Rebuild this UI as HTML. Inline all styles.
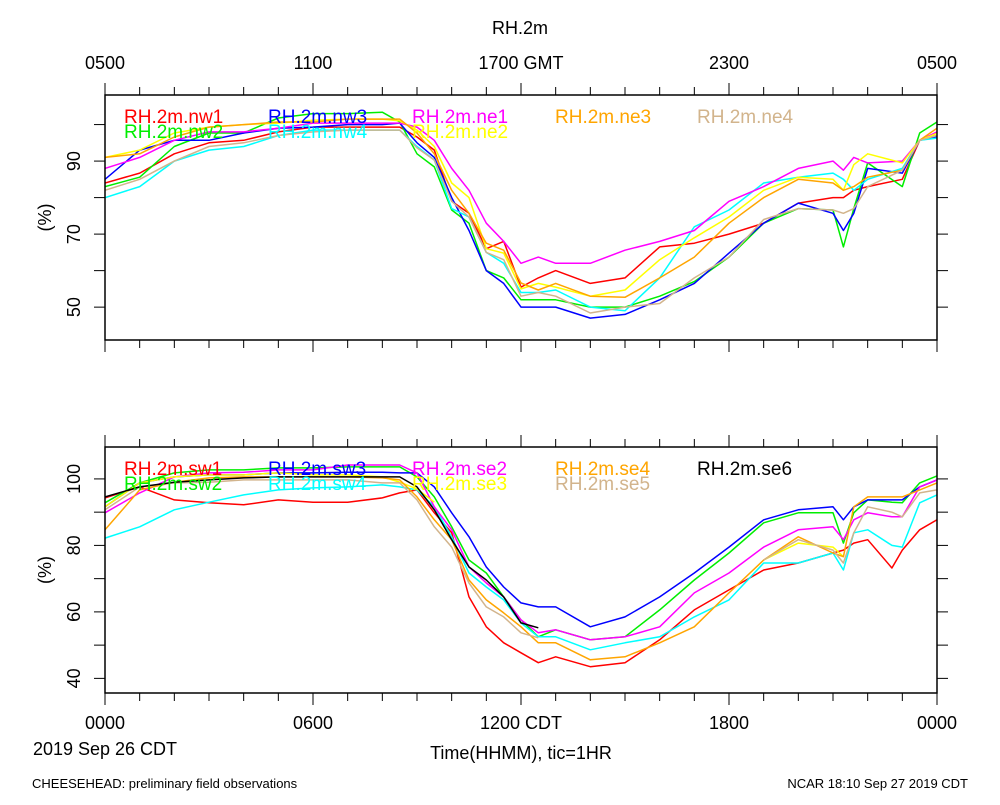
<!DOCTYPE html>
<html><head><meta charset="utf-8">
<style>
html,body{margin:0;padding:0;background:#fff;}
svg text{font-family:"Liberation Sans",Arial,sans-serif;}
</style></head>
<body>
<svg id="chart" width="1000" height="800" viewBox="0 0 1000 800" xmlns="http://www.w3.org/2000/svg">
<rect x="0" y="0" width="1000" height="800" fill="#fff"/>
<text x="520" y="34" font-size="18" text-anchor="middle">RH.2m</text>
<g id="top-panel"></g>
<g id="bottom-panel"></g>
<text x="105" y="755" font-size="18" text-anchor="middle">2019 Sep 26 CDT</text>
<text x="521" y="759" font-size="18" text-anchor="middle">Time(HHMM), tic=1HR</text>
<text x="32" y="788" font-size="13">CHEESEHEAD: preliminary field observations</text>
<text x="968" y="788" font-size="13" text-anchor="end">NCAR 18:10 Sep 27 2019 CDT</text>
</svg>
<script>
const topHours=[0,1,2,3,4,5,6,7,8,8.5,9,9.5,10,10.5,11,11.5,12,12.5,13,14,15,16,17,18,19,20,21,21.3,21.6,22,23,23.5,24];
const nw1=[84,86.7,92,95,95.7,98,99.3,99.3,99.3,99.3,96.6,93,79,75.7,66,68,55.5,58,60,56.5,58,66.5,67.5,70,73,78.5,80,80,82,83,85,95.7,97];
const nw2=[83,85.6,94,97.7,97.7,101.8,103,103,103.4,100.7,92,88.4,76.6,73,60,58,52,52,52,50,50,53,57,63.7,73,77,76.6,66.5,77,89.5,83,97.7,100.7];
const nw3=[85,93,95.7,95.7,97.7,99,99.3,100,100,100.4,95,91,80,71,60,56.5,50,50,50,47,48,52,56.5,64.8,73,78.5,75.7,71,75.7,88,86.7,95.7,96.6];
const nw4=[80,83,90,93,94,97,98.5,98.5,98.5,98.5,94,90.3,77,74.7,65,62,54,54,54.7,50,49,58,72,76.6,84,85.6,86.7,85,82,85,88,95.7,96.3];
const ne1=[88,91,95.7,98,98,99,100.4,100.4,100.4,100.4,99.3,95.7,88,82,73,68,62,63.7,62,62,65.6,68,71,79,83,88,90,87.5,91,89.5,90,95.7,98];
const ne2=[91,93,97.7,99.3,100,100.4,101.2,101.5,101.5,101,98.5,94,84,80,66,64.8,55,56.5,55.5,53,54.7,63,69,74.7,82,85.6,85,82,89,92,89.5,95.7,97.6];
const ne3=[91,92,96.6,99.3,100,100.7,100.7,101.5,101.5,101.5,97.7,92,82,75.7,67.5,65.6,56.6,54.7,56.5,53,52.7,58,63.7,73,80,85,84,82,83,85.6,87.5,95.7,99];
const ne4=[82,85,90,94,95,97,98,98.5,98.5,98.5,93.6,90.3,79,74.7,65,63,53,54,53,48.4,50,51,58,63.7,74,77,76.6,75.7,77,83,87.5,95.7,97];

const botHours=[0,1,2,3,4,5,6,7,8,8.5,9,9.5,10,10.5,11,11.5,12,12.5,13,14,15,16,17,18,19,20,21,21.3,21.6,22,22.7,23,23.5,24];
const sw1=[94.3,97.6,93.7,92.8,92.2,93.7,93,93,94.3,95.8,96.7,89.8,83.8,64.5,55.5,50.7,47.7,44.7,46.5,43.5,44.7,51.6,60.6,66.6,72.6,74.7,77.7,78.6,80.7,81.7,73.2,78.6,84.7,87.7];
const sw2=[92.8,98.8,101.8,102.7,102.7,103.3,103.3,103.6,103.6,103.6,100.6,94.6,85.6,75.6,71.7,64.5,57.6,52.5,54.6,51.6,52.5,60.6,69.6,77.7,86.8,89.8,89.8,80.7,89.8,93.7,93,92.8,98.8,100.9];
const sw3=[91.6,98.8,100.6,101.2,101.2,101.8,101.8,102,102,101.8,101.8,97.6,89.8,82.6,73.5,67.5,62.7,61.5,61.5,55.5,58.5,64.5,71.7,79.5,87.7,90.7,91.6,87.7,91.6,93.7,93.7,93.7,97.6,99.7];
const sw4=[82.2,85.6,90.7,93,95.2,96.7,97.3,97.6,98.2,97.6,96.7,91.6,82.6,71.7,67.5,63.6,56.7,52.5,52.5,48.6,50.7,52.5,58.5,63.6,74.7,74.7,77.7,72.6,83.8,84.7,80,79.5,92.8,95.2];
const se2=[89.8,95.8,100.6,101.8,102,102.7,102.7,104.2,104.2,104.2,101.8,91.6,84.7,73.5,68.7,64.5,57.6,53.7,54.6,51.6,52.5,55.5,65.7,71.7,79.5,84.7,85.6,81.7,87.7,89.8,88.6,88.6,97.6,99.7];
const se3=[91.6,98.8,100.6,101.2,101.2,101.8,101.2,101.2,100.6,99,97,93,null,null,null,null,null,null,null,null,null,null,null,null,75.6,80.7,79.5,76.6,null,null,null,null,null,null];
const se4=[84.7,96.7,99,100.3,100.6,100.6,100.6,100.6,100.3,99.7,94.6,87.7,81.7,69.6,63.6,59.7,55.5,50.7,50.7,45.6,46.5,50.7,55.5,65.7,75.6,82.6,77.7,76.6,91.6,94.6,94.6,94.6,96.7,98.8];
const se5=[90.7,97.6,98.8,99,99.7,99.7,99.7,99.7,98.8,98.8,93.7,85.6,79.5,68.7,61.5,58.5,53.7,52.2,null,null,null,null,null,null,75.6,81.7,78.6,74.7,83.8,91.6,90,88.6,95.8,96.7];
const se6=[94.6,97.6,99,99.7,100.3,100.6,100.6,100.6,100.6,100.6,97.6,90.7,81.7,73.5,69.6,64.5,56.7,55.2,null,null,null,null,null,null,null,null,null,null,null,null,null,null,null,null];

const topSeries=[["RH.2m.nw1",nw1,"#ff0000"],["RH.2m.nw2",nw2,"#00ee00"],["RH.2m.nw3",nw3,"#0000ff"],["RH.2m.nw4",nw4,"#00ffff"],["RH.2m.ne1",ne1,"#ff00ff"],["RH.2m.ne2",ne2,"#ffff00"],["RH.2m.ne3",ne3,"#ffa500"],["RH.2m.ne4",ne4,"#d2b48c"]];
const botSeries=[["RH.2m.sw1",sw1,"#ff0000"],["RH.2m.sw2",sw2,"#00ee00"],["RH.2m.sw3",sw3,"#0000ff"],["RH.2m.sw4",sw4,"#00ffff"],["RH.2m.se2",se2,"#ff00ff"],["RH.2m.se3",se3,"#ffff00"],["RH.2m.se4",se4,"#ffa500"],["RH.2m.se5",se5,"#d2b48c"],["RH.2m.se6",se6,"#000000"]];
const topTickLabels=["0500","1100","1700 GMT","2300","0500"];
const botTickLabels=["0000","0600","1200 CDT","1800","0000"];
const topYLabels=[50,70,90];
const botYLabels=[40,60,80,100];

const NS="http://www.w3.org/2000/svg";
function mk(tag,attrs,parent){const e=document.createElementNS(NS,tag);for(const k in attrs)e.setAttribute(k,attrs[k]);parent.appendChild(e);return e;}
const X0=105,X1=937;
function xs(h){return X0+(X1-X0)*h/24;}

function panel(g,y0,y1,vmin,vmax,hours,series,legendY,yLabels,xLabelsTop,xLabelsBottom,pname){
  const ys=v=>y1-(v-vmin)/(vmax-vmin)*(y1-y0);
  const clip=mk("clipPath",{id:"clip-"+pname},g);
  mk("rect",{x:X0,y:y0,width:X1-X0,height:y1-y0},clip);
  const lines=mk("g",{"clip-path":"url(#clip-"+pname+")"},g);
  series.forEach((s,i)=>{
    let d="",pen=false;
    hours.forEach((h,j)=>{const v=s[1][j];if(v===null){pen=false;return;}d+=(pen?"L":"M")+xs(h).toFixed(1)+" "+ys(v).toFixed(1);pen=true;});
    const p=mk("path",{d:d,fill:"none",stroke:s[2],"stroke-width":"1.5","stroke-linejoin":"round"},lines);
    
    
  });
  const cols=[124,268,412,555,697];
  const layout=pname==="top"?[[0,1],[2,3],[4,5],[6],[7]]:[[0,1],[2,3],[4,5],[6,7],[8]];
  layout.forEach((col,ci)=>{col.forEach((si,ri)=>{
    const s=series[si];
    const t=mk("text",{x:cols[ci],y:legendY+ri*15,"font-size":"19",fill:s[2]},g);
    t.textContent=s[0];
    
    
  });});
  const fr=mk("rect",{x:X0,y:y0,width:X1-X0,height:y1-y0,fill:"none",stroke:"#000","stroke-width":"1.5"},g);
  
  
  for(let h=0;h<=24;h++){
    const L=(h%6===0)?12:8,x=xs(h);
    mk("line",{x1:x,y1:y0,x2:x,y2:y0-L,stroke:"#000","stroke-width":"1"},g);
    mk("line",{x1:x,y1:y1,x2:x,y2:y1+L,stroke:"#000","stroke-width":"1"},g);
  }
  const xl=xLabelsTop||xLabelsBottom;
  xl.forEach((lab,i)=>{
    const t=mk("text",{x:xs(i*6),y:xLabelsTop?y0-26:y1+36,"font-size":"18","text-anchor":"middle"},g);
    t.textContent=lab;
    
    
  });
  for(let v=Math.ceil(vmin/10)*10;v<=vmax;v+=10){
    const y=ys(v);
    mk("line",{x1:X0,y1:y,x2:X0-11,y2:y,stroke:"#000","stroke-width":"1"},g);
    mk("line",{x1:X1,y1:y,x2:X1+11,y2:y,stroke:"#000","stroke-width":"1"},g);
  }
  yLabels.forEach(v=>{
    const y=ys(v);
    const t=mk("text",{x:0,y:0,"font-size":"18","text-anchor":"middle",transform:"translate(80 "+y.toFixed(1)+") rotate(-90)"},g);
    t.textContent=v;
    
    
  });
  const yt=mk("text",{x:0,y:0,"font-size":"18","text-anchor":"middle",transform:"translate(51 "+((y0+y1)/2)+") rotate(-90)"},g);
  yt.textContent="(%)";
  
  
}
panel(document.getElementById("top-panel"),95,340,41.0,108.1,topHours,topSeries,123,topYLabels,topTickLabels,null,"top");
panel(document.getElementById("bottom-panel"),447,693,35.6,109.6,botHours,botSeries,475,botYLabels,null,botTickLabels,"bottom");
</script>
</body></html>
